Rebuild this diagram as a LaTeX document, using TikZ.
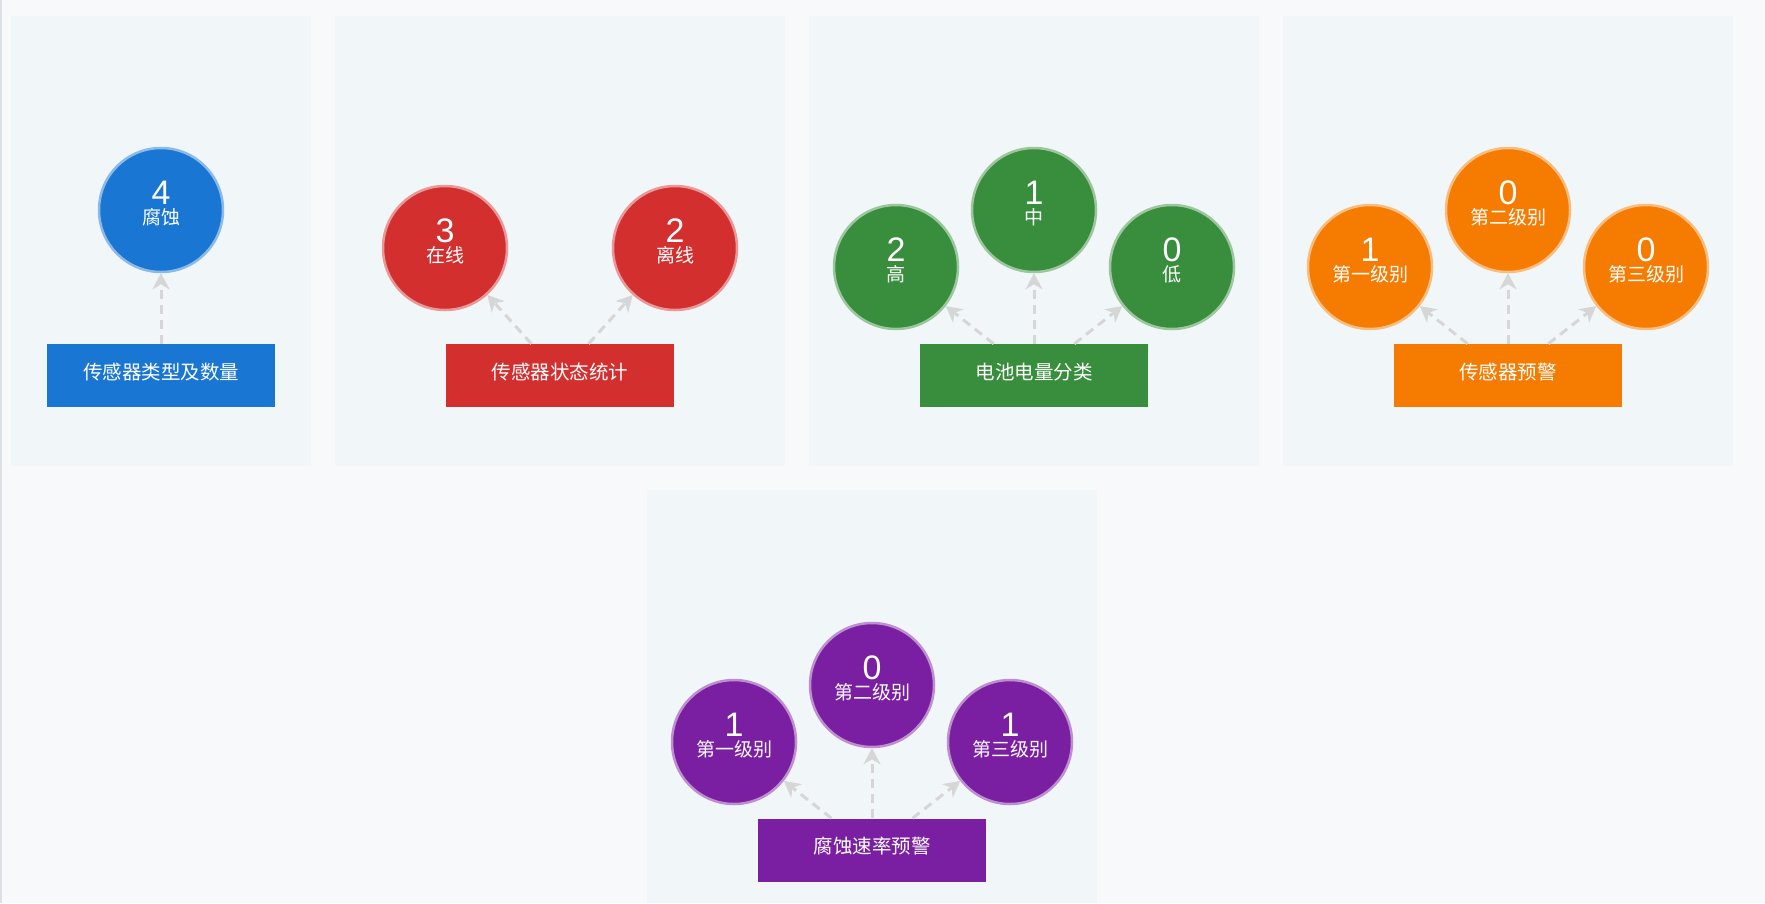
\documentclass[tikz,border=0pt]{standalone}
\usepackage{fontspec}
\setmainfont{Liberation Sans}
\newfontfamily\cjk{Noto Sans CJK SC}
\usepackage{tikz}
\usetikzlibrary{arrows.meta, positioning, calc}
\usepackage{xcolor}
\definecolor{pagebg}{HTML}{F8F9FA}
\definecolor{panelbg}{HTML}{F1F6F9}
\definecolor{edgegray}{HTML}{DCDFE3}
\definecolor{linkgray}{HTML}{D6D6D6}
\definecolor{typeblue}{HTML}{1976D2}
\definecolor{statred}{HTML}{D32F2F}
\definecolor{battgreen}{HTML}{388E3C}
\definecolor{warnorange}{HTML}{F57C00}
\definecolor{ratepurple}{HTML}{7B1FA2}

\tikzset{
  panel/.style={fill=panelbg},
  stat/.style={circle, fill=#1, draw=#1!50!white, line width=2.5pt, minimum size=124pt, inner sep=0pt},
  catbox/.style={rectangle, fill=#1, minimum width=228pt, minimum height=63pt, inner sep=0pt,
    text=white, font=\cjk\fontsize{19.5}{20}\selectfont, text height=0.88em, text depth=0.12em},
  num/.style={text=white, font=\fontsize{34}{34}\selectfont, anchor=base, inner sep=0pt,
    text height=0.72em, text depth=0pt},
  tag/.style={text=white, font=\cjk\fontsize{19}{19}\selectfont, anchor=base, inner sep=0pt,
    text height=0.78em, text depth=0.1em},
  link/.style={draw=linkgray, line width=3pt, dash pattern=on 9pt off 6pt,
    -{Stealth[length=16pt, width=17pt, inset=5pt]}}
}

\begin{document}
\begin{tikzpicture}[x=1pt, y=-1pt]
  \useasboundingbox (0,0) rectangle (1765,903);
  \fill[pagebg] (0,0) rectangle (1765,903);
  \draw[edgegray, line width=1.5pt] (0.75,0) -- (0.75,903);

  % panels
  \fill[panel] (11,16) rectangle (311,466);
  \fill[panel] (335,16) rectangle (785,466);
  \fill[panel] (809,16) rectangle (1259,466);
  \fill[panel] (1283,16) rectangle (1733,466);
  \fill[panel] (647,490) rectangle (1097,903);

  % sensor types
  \node[stat=typeblue] (c1) at (161,210) {};
  \node[num] (c1n) at ($(c1)+(0,-6)$) {4};
  \node[tag] (c1t) at ($(c1)+(0,14)$) {腐蚀};
  \node[catbox=typeblue] (b1) at (161,375.5) {传感器类型及数量};
  \draw[link] (b1) -- (c1);

  % sensor status
  \node[stat=statred] (c2a) at (445,248) {};
  \node[num] (c2an) at ($(c2a)+(0,-6)$) {3};
  \node[tag] (c2at) at ($(c2a)+(0,14)$) {在线};
  \node[stat=statred] (c2b) at (675,248) {};
  \node[num] (c2bn) at ($(c2b)+(0,-6)$) {2};
  \node[tag] (c2bt) at ($(c2b)+(0,14)$) {离线};
  \node[catbox=statred] (b2) at (560,375.5) {传感器状态统计};
  \draw[link] (b2) -- (c2a);
  \draw[link] (b2) -- (c2b);

  % battery level
  \node[stat=battgreen] (c3a) at (896,267) {};
  \node[num] (c3an) at ($(c3a)+(0,-6)$) {2};
  \node[tag] (c3at) at ($(c3a)+(0,14)$) {高};
  \node[stat=battgreen] (c3b) at (1034,210) {};
  \node[num] (c3bn) at ($(c3b)+(0,-6)$) {1};
  \node[tag] (c3bt) at ($(c3b)+(0,14)$) {中};
  \node[stat=battgreen] (c3c) at (1172,267) {};
  \node[num] (c3cn) at ($(c3c)+(0,-6)$) {0};
  \node[tag] (c3ct) at ($(c3c)+(0,14)$) {低};
  \node[catbox=battgreen] (b3) at (1034,375.5) {电池电量分类};
  \draw[link] (b3) -- (c3a);
  \draw[link] (b3) -- (c3b);
  \draw[link] (b3) -- (c3c);

  % sensor warning
  \node[stat=warnorange] (c4a) at (1370,267) {};
  \node[num] (c4an) at ($(c4a)+(0,-6)$) {1};
  \node[tag] (c4at) at ($(c4a)+(0,14)$) {第一级别};
  \node[stat=warnorange] (c4b) at (1508,210) {};
  \node[num] (c4bn) at ($(c4b)+(0,-6)$) {0};
  \node[tag] (c4bt) at ($(c4b)+(0,14)$) {第二级别};
  \node[stat=warnorange] (c4c) at (1646,267) {};
  \node[num] (c4cn) at ($(c4c)+(0,-6)$) {0};
  \node[tag] (c4ct) at ($(c4c)+(0,14)$) {第三级别};
  \node[catbox=warnorange] (b4) at (1508,375.5) {传感器预警};
  \draw[link] (b4) -- (c4a);
  \draw[link] (b4) -- (c4b);
  \draw[link] (b4) -- (c4c);

  % corrosion rate warning
  \node[stat=ratepurple] (c5a) at (734,742) {};
  \node[num] (c5an) at ($(c5a)+(0,-6)$) {1};
  \node[tag] (c5at) at ($(c5a)+(0,14)$) {第一级别};
  \node[stat=ratepurple] (c5b) at (872,685) {};
  \node[num] (c5bn) at ($(c5b)+(0,-6)$) {0};
  \node[tag] (c5bt) at ($(c5b)+(0,14)$) {第二级别};
  \node[stat=ratepurple] (c5c) at (1010,742) {};
  \node[num] (c5cn) at ($(c5c)+(0,-6)$) {1};
  \node[tag] (c5ct) at ($(c5c)+(0,14)$) {第三级别};
  \node[catbox=ratepurple] (b5) at (872,850) {腐蚀速率预警};
  \draw[link] (b5) -- (c5a);
  \draw[link] (b5) -- (c5b);
  \draw[link] (b5) -- (c5c);
\end{tikzpicture}
\end{document}
